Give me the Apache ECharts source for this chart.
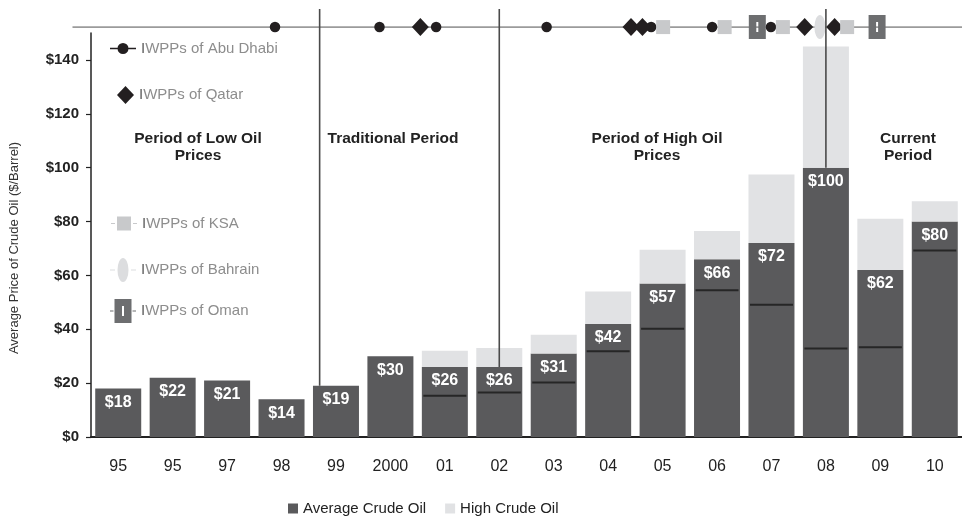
<!DOCTYPE html>
<html><head><meta charset="utf-8">
<script src="https://cdn.jsdelivr.net/npm/echarts@6/dist/echarts.min.js"></script>
<style>html,body{margin:0;padding:0;background:#fff}#c{width:962px;height:519px}</style>
</head><body><div id="c"></div>
<script>
// ---------- data ----------
const categories = ['95','95','97','98','99','2000','01','02','03','04','05','06','07','08','09','10'];
const avgValues  = [18,22,21,14,19,30,26,26,31,42,57,66,72,100,62,80];
const highValues = [null,null,null,null,null,null,32,33,38,54,69.5,76.5,97.5,145,81,87.5];
const lowValues  = [null,null,null,null,null,null,15.3,16.5,20.2,31.8,40.2,54.5,49.1,32.9,33.3,69.2];
const yTickValues = [0,20,40,60,80,100,120,140];
// IWPP timeline positions (fractional category index)
const abuDhabiIWPP = [2.88,4.80,5.84,7.87,9.79,10.91,11.99];
const qatarIWPP    = [5.55,9.42,9.63,12.61,13.16];
const ksaIWPP      = [10.01,11.14,12.21,13.39];
const bahrainIWPP  = [12.89];
const omanIWPP     = [11.74,13.94];
const periodDividers = [3.7,7,13];
const periodNames = ['Period of Low Oil\nPrices','Traditional Period','Period of High Oil\nPrices','Current\nPeriod'];
const timelineValue = 152.2;
const timelineExtent = [-0.84, 15.7];
const dividerTop = 158.9;

// ---------- chart ----------
const FONT = '"Liberation Sans", Arial, Helvetica, sans-serif';
const chart = echarts.init(document.getElementById('c'), null, {renderer:'canvas'});
const row = arr => arr.map(x => [x, timelineValue]);

const ICON_ABU = 'path://M0 5.2H26V6.8H0Z M7.5 6a5.5 5.5 0 1 1 11 0a5.5 5.5 0 1 1 -11 0Z';
const ICON_QAT = 'path://M8.5 0L17 9L8.5 18L0 9Z';
const ICON_KSA = 'path://M0 6.5H4V7.5H0Z M6 0H20V14H6Z M22 6.5H26V7.5H22Z';
const ICON_BAH = 'path://M0 11.5H5V12.5H0Z M7.5 12a5.5 12 0 1 1 11 0a5.5 12 0 1 1 -11 0Z M21 11.5H26V12.5H21Z';
const ICON_OMA = 'path://M0 11.5H3.5V12.5H0Z M4.5 0H21.5V24H4.5Z M12 7V17H14V7Z M22.5 11.5H26V12.5H22.5Z';
const OMAN_SYM = 'path://M0 0H17V24H0Z M7.5 7V17H9.5V7Z';
const ELLIPSE_SYM = 'path://M0 12a5.5 12 0 1 1 11 0a5.5 12 0 1 1 -11 0Z';

const leftLegend = (name, icon, left, top, w, h) => ({
  data:[{name, icon}], left, top, orient:'vertical', itemWidth:w, itemHeight:h,
  padding:0, selectedMode:false,
  formatter: n => '{i|I}{t|' + n.slice(1) + '}',
  textStyle:{fontSize:15, fontFamily:FONT,
    rich:{i:{color:'#5e5e5e', fontSize:15, fontFamily:FONT}, t:{color:'#8d8d8d', fontSize:15, fontFamily:FONT}}}
});

const periodX = [198, 393, 657, 908];

const option = {
  animation:false,
  backgroundColor:'#fff',
  grid:{left:91, top:33, width:872, height:404, containLabel:false},
  xAxis:[
    {type:'category', data:categories, gridIndex:0,
     axisLine:{lineStyle:{color:'#222', width:2}}, axisTick:{show:false},
     axisLabel:{fontSize:16, color:'#222', margin:22, fontFamily:FONT}},
    {type:'value', min:-0.5, max:15.5, show:false, gridIndex:0}
  ],
  yAxis:{type:'value', min:0, max:150,
    axisLine:{show:true, onZero:false, lineStyle:{color:'#222', width:1.5}},
    axisTick:{show:true, customValues:yTickValues, length:5, lineStyle:{color:'#222', width:1.2}},
    axisLabel:{customValues:yTickValues, formatter:v=>'$'+v, fontWeight:'bold', fontSize:15, color:'#222', margin:12, fontFamily:FONT},
    splitLine:{show:false},
    name:'Average Price of Crude Oil ($/Barrel)', nameLocation:'middle', nameGap:70,
    nameTextStyle:{fontSize:13, color:'#333', fontFamily:FONT, padding:[0,26,0,0]}
  },
  legend:[
    {data:['Average Crude Oil','High Crude Oil'], left:288, top:501, itemWidth:10, itemHeight:10, itemGap:19,
     icon:'rect', padding:0, selectedMode:false, textStyle:{fontSize:15, color:'#222', fontFamily:FONT}},
    leftLegend('IWPPs of Abu Dhabi', ICON_ABU, 110, 41, 26, 11),
    leftLegend('IWPPs of Qatar', ICON_QAT, 117, 86, 17, 18),
    leftLegend('IWPPs of KSA', ICON_KSA, 111, 216, 26, 14),
    leftLegend('IWPPs of Bahrain', ICON_BAH, 110, 258, 26, 24),
    leftLegend('IWPPs of Oman', ICON_OMA, 110, 299, 26, 24)
  ],
  graphic: periodNames.map((t,i)=>({
    type:'text', x:periodX[i], y:130.5, z:10,
    style:{text:t, textAlign:'center', textVerticalAlign:'top', font:'bold 15.5px ' + FONT, fill:'#222', lineHeight:17}
  })),
  series:[
    {name:'Average Crude Oil', type:'bar', stack:'oil', data:avgValues, barWidth:46,
     itemStyle:{color:'#5a5a5c'}, z:2,
     label:{show:true, position:'insideTop', distance:6, formatter:p=>'$'+p.value, color:'#fff',
            fontWeight:'bold', fontSize:16, fontFamily:FONT}},
    {name:'High Crude Oil', type:'bar', stack:'oil', barWidth:46,
     data:highValues.map((h,i)=> h==null ? null : +(h-avgValues[i]).toFixed(2)),
     itemStyle:{color:'#e1e2e4'}, z:2},
    {name:'Low Crude Oil', type:'scatter', data:lowValues.map(v=> v==null ? '-' : v),
     symbol:'rect', symbolSize:[43,2], itemStyle:{color:'#262626', opacity:1}, z:3, silent:true},
    {name:'timeline', type:'custom', xAxisIndex:1, clip:false, z:3, silent:true,
     data:[[timelineExtent[0], timelineExtent[1], timelineValue]],
     renderItem:(params, api)=>{
       const a = api.coord([api.value(0), api.value(2)]);
       const b = api.coord([api.value(1), api.value(2)]);
       return {type:'line', shape:{x1:a[0], y1:a[1], x2:b[0], y2:b[1]},
               style:{stroke:'#9b9b9b', lineWidth:1.8}};
     }},
    {name:'IWPPs of Abu Dhabi', type:'scatter', xAxisIndex:1, data:row(abuDhabiIWPP),
     symbol:'circle', symbolSize:10.5, itemStyle:{color:'#231f20', opacity:1}, clip:false, z:4},
    {name:'IWPPs of Qatar', type:'scatter', xAxisIndex:1, data:row(qatarIWPP),
     symbol:'diamond', symbolSize:[17,18], itemStyle:{color:'#231f20', opacity:1}, clip:false, z:4},
    {name:'IWPPs of KSA', type:'scatter', xAxisIndex:1, data:row(ksaIWPP),
     symbol:'rect', symbolSize:[14,14], itemStyle:{color:'#c8c9cb', opacity:1}, clip:false, z:4},
    {name:'IWPPs of Bahrain', type:'scatter', xAxisIndex:1, data:row(bahrainIWPP),
     symbol:ELLIPSE_SYM, symbolSize:[11,24], itemStyle:{color:'#dcdddf', opacity:1}, clip:false, z:4},
    {name:'IWPPs of Oman', type:'scatter', xAxisIndex:1, data:row(omanIWPP),
     symbol:OMAN_SYM, symbolSize:[17,24], itemStyle:{color:'#6d6e70', opacity:1}, clip:false, z:4},
    {name:'dividers', type:'custom', xAxisIndex:1, clip:false, z:6, silent:true,
     data:periodDividers.map(x=>[x, avgValues[Math.round(x)]]),
     renderItem:(params, api)=>{
       const p0 = api.coord([api.value(0), api.value(1)]);
       const p1 = api.coord([api.value(0), dividerTop]);
       return {type:'line', shape:{x1:p0[0], y1:p0[1], x2:p1[0], y2:p1[1]},
               style:{stroke:'#4a4a4a', lineWidth:1.6}};
     }}
  ]
};
chart.setOption(option);
</script></body></html>
